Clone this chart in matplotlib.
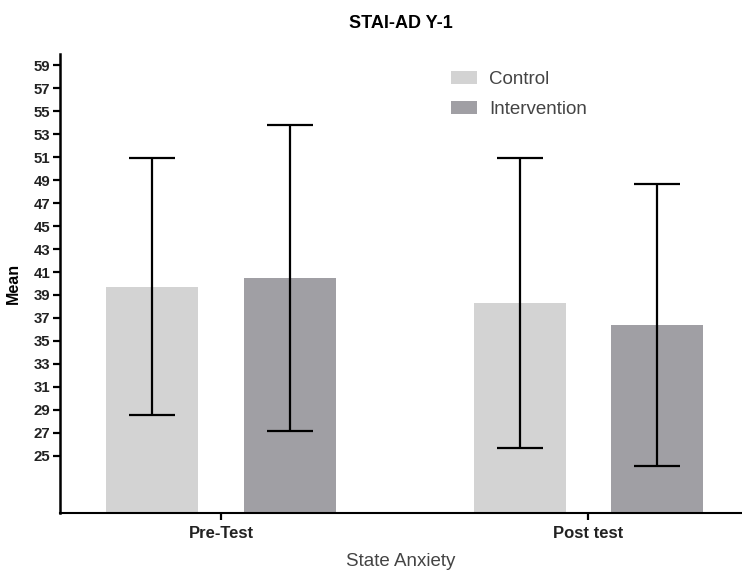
import numpy as np
import matplotlib
matplotlib.use('Agg')
import matplotlib.pyplot as plt

plt.rcParams['font.family'] = ['Liberation Sans', 'DejaVu Sans']

groups = ['Pre-Test', 'Post test']
series = ['Control', 'Intervention']
means_control = [39.73, 38.29]
means_intervention = [40.47, 36.40]
sd_control = [11.20, 12.64]
sd_intervention = [13.31, 12.28]
y_ticks = list(range(25, 60, 2))

colors = ['#d3d3d3', '#a09fa4']

fig = plt.figure(figsize=(7.42, 5.73), dpi=100)
ax = fig.add_axes([60 / 742, 60 / 573, 682 / 742, 459 / 573])

x = np.arange(len(groups))
width = 0.251
offset = 0.187
err_kw = dict(ecolor='black', elinewidth=1.6, capsize=16.5, capthick=1.6)
ax.bar(x - offset, means_control, width, yerr=sd_control, color=colors[0],
       label=series[0], error_kw=err_kw)
ax.bar(x + offset, means_intervention, width, yerr=sd_intervention, color=colors[1],
       label=series[1], error_kw=err_kw)

ax.set_xlim(-0.438, 1.418)
ax.set_ylim(20, 60)
ax.set_yticks(y_ticks)
ax.set_yticklabels([str(t) for t in y_ticks], fontsize=10.8, fontweight='bold', color='#222222')
ax.set_xticks(x)
ax.set_xticklabels(groups, fontsize=12, fontweight='bold', color='#222222')

for side in ['top', 'right']:
    ax.spines[side].set_visible(False)
ax.spines['left'].set_linewidth(1.8)
ax.spines['bottom'].set_linewidth(1.5)
ax.tick_params(axis='y', direction='out', length=5, width=1.6, pad=2)
ax.tick_params(axis='x', direction='out', length=5, width=1.6, pad=4)

ax.set_ylabel('Mean', fontsize=11.5, fontweight='bold', labelpad=9)
ax.set_xlabel('State Anxiety', fontsize=13.5, color='#444444', labelpad=9)
ax.set_title('STAI-AD Y-1', fontsize=13, fontweight='bold', pad=18.5)

ax.legend(loc='upper left', bbox_to_anchor=(0.548, 1.0), frameon=False, fontsize=13.5,
          handlelength=1.4, handleheight=0.65, labelspacing=0.7, handletextpad=0.64,
          labelcolor='#444444')

fig.savefig('out.png', dpi=100)
